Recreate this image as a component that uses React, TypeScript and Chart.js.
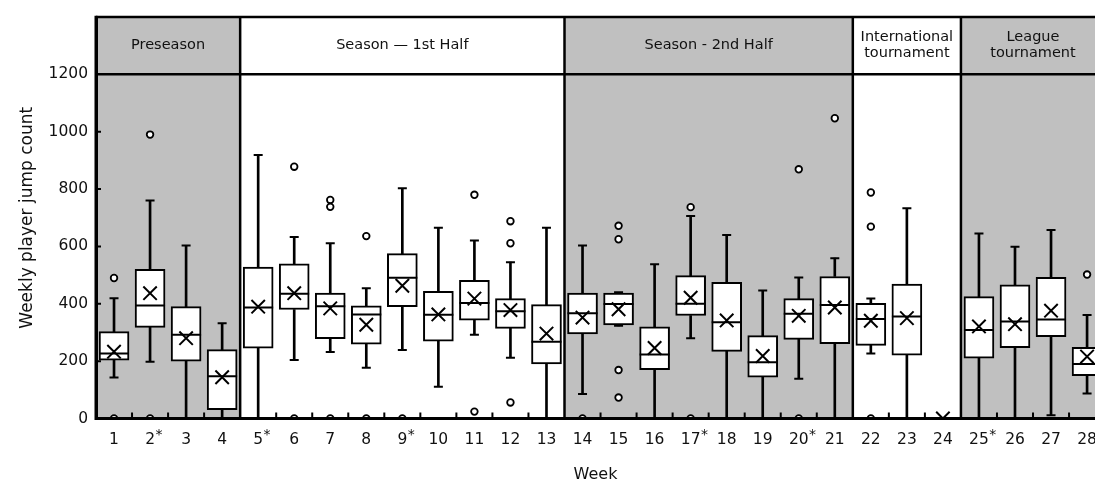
import React, { useEffect, useRef } from 'react';
import { Chart, registerables } from 'chart.js';

Chart.register(...registerables);

const weeks = [1, 2, 3, 4, 5, 6, 7, 8, 9, 10, 11, 12, 13, 14, 15, 16, 17, 18, 19, 20, 21, 22, 23, 24, 25, 26, 27, 28];
const weekLabels = ['1', '2', '3', '4', '5', '6', '7', '8', '9', '10', '11', '12', '13', '14', '15', '16', '17', '18', '19', '20', '21', '22', '23', '24', '25', '26', '27', '28'];
const starredWeeks = [2, 5, 9, 17, 20, 25];

const q1 = [203, 318, 200, 31, 245, 380, 278, 259, 390, 270, 343, 314, 190, 295, 326, 170, 359, 234, 144, 276, 261, 255, 221, null, 210, 247, 285, 149];
const q3 = [303, 520, 390, 240, 528, 539, 437, 393, 575, 443, 482, 418, 397, 437, 437, 320, 498, 475, 289, 418, 495, 402, 469, null, 425, 466, 492, 248];
const medians = [227, 394, 292, 147, 387, 435, 391, 363, 491, 362, 403, 374, 268, 367, 399, 223, 400, 336, 196, 365, 396, 347, 356, null, 309, 338, 345, 190];
const means = [233, 437, 280, 144, 390, 437, 384, 327, 463, 363, 418, 378, 296, 352, 381, 246, 421, 342, 218, 358, 387, 341, 350, 0, 321, 329, 376, 216];
const whiskerLow = [143, 198, 0, 0, 0, 204, 232, 177, 239, 111, 292, 212, 0, 85, 323, 0, 280, 0, 0, 139, 0, 227, 0, null, 0, 0, 11, 87];
const whiskerHigh = [419, 760, 603, 332, 919, 633, 611, 454, 803, 665, 621, 545, 665, 603, 440, 538, 706, 640, 446, 492, 559, 418, 733, null, 645, 599, 657, 361];

const outlierWeeks = [1, 1, 2, 2, 6, 6, 7, 7, 7, 8, 8, 9, 11, 11, 12, 12, 12, 14, 15, 15, 15, 15, 17, 17, 20, 20, 21, 22, 22, 22, 28];
const outlierValues = [490, 0, 990, 0, 878, 0, 762, 738, 0, 636, 0, 0, 780, 24, 688, 611, 56, 0, 672, 625, 169, 73, 737, 0, 869, 0, 1047, 788, 669, 0, 502];

const sectionNames = [['Preseason'], ['Season \u2014 1st Half'], ['Season - 2nd Half'], ['International', 'tournament'], ['League', 'tournament']];
const sectionStarts = [1, 5, 14, 22, 25];
const sectionEnds = [4, 13, 21, 24, 28];
const sectionShaded = [true, false, true, false, true];

const yTicks = [0, 200, 400, 600, 800, 1000, 1200];
const headerFrom = 1200;
const yMax = 1400;

const FONT = '"DejaVu Sans", sans-serif';
const SHADE = '#c0c0c0';

const sectionPlugin = {
  id: 'sections',
  beforeDraw(chart: any) {
    const { ctx, chartArea, scales } = chart;
    const x = scales.x;
    ctx.save();
    ctx.fillStyle = SHADE;
    sectionStarts.forEach((s, i) => {
      if (!sectionShaded[i]) return;
      const l = x.getPixelForValue(s - 0.5);
      const r = Math.min(x.getPixelForValue(sectionEnds[i] + 0.5), chartArea.right);
      ctx.fillRect(l, chartArea.top, r - l, chartArea.bottom - chartArea.top);
    });
    ctx.restore();
  },
  afterDatasetsDraw(chart: any) {
    const { ctx, chartArea, scales } = chart;
    const x = scales.x;
    const y = scales.y;
    ctx.save();
    ctx.strokeStyle = '#000';
    ctx.lineWidth = 2;
    ctx.beginPath();
    for (let w = 1; w < 28; w++) {
      if (sectionEnds.includes(w)) continue;
      const px = x.getPixelForValue(w + 0.5);
      ctx.moveTo(px, chartArea.bottom);
      ctx.lineTo(px, chartArea.bottom - 6);
    }
    ctx.stroke();
    ctx.beginPath();
    yTicks.forEach((v) => {
      if (v === 0 || v >= headerFrom) return;
      const py = y.getPixelForValue(v);
      ctx.moveTo(chartArea.left, py);
      ctx.lineTo(chartArea.left + 5, py);
    });
    ctx.stroke();
    ctx.lineWidth = 2.5;
    ctx.beginPath();
    sectionEnds.forEach((e, i) => {
      if (i === sectionEnds.length - 1) return;
      const px = x.getPixelForValue(e + 0.5);
      ctx.moveTo(px, chartArea.top);
      ctx.lineTo(px, chartArea.bottom);
    });
    const hy = y.getPixelForValue(headerFrom);
    ctx.moveTo(chartArea.left, hy);
    ctx.lineTo(chartArea.right, hy);
    ctx.moveTo(chartArea.left, chartArea.top);
    ctx.lineTo(chartArea.right, chartArea.top);
    ctx.stroke();
    ctx.lineWidth = 3;
    ctx.beginPath();
    ctx.moveTo(chartArea.left, chartArea.top - 1.25);
    ctx.lineTo(chartArea.left, chartArea.bottom + 1.5);
    ctx.stroke();
    ctx.beginPath();
    ctx.moveTo(chartArea.left, chartArea.bottom);
    ctx.lineTo(chartArea.right, chartArea.bottom);
    ctx.stroke();
    ctx.fillStyle = '#111';
    ctx.font = '14.5px ' + FONT;
    ctx.textAlign = 'center';
    ctx.textBaseline = 'middle';
    const cy = (y.getPixelForValue(yMax) + hy) / 2;
    sectionNames.forEach((lines, i) => {
      const cx = x.getPixelForValue((sectionStarts[i] + sectionEnds[i]) / 2);
      if (lines.length === 1) {
        ctx.fillText(lines[0], cx, cy);
      } else {
        ctx.fillText(lines[0], cx, cy - 8);
        ctx.fillText(lines[1], cx, cy + 8);
      }
    });
    ctx.restore();
  },
  afterDraw(chart: any) {
    const { ctx, scales } = chart;
    const x = scales.x;
    ctx.save();
    ctx.fillStyle = '#111';
    starredWeeks.forEach((w) => {
      const label = weekLabels[weeks.indexOf(w)];
      ctx.font = '15.5px ' + FONT;
      const tw = ctx.measureText(label).width;
      const px = x.getPixelForValue(w) + tw / 2 + 0.5;
      ctx.font = '14px ' + FONT;
      ctx.textAlign = 'left';
      ctx.textBaseline = 'alphabetic';
      ctx.fillText('*', px, 439);
    });
    ctx.restore();
  },
};

export default function App() {
  const canvasRef = useRef<HTMLCanvasElement | null>(null);

  useEffect(() => {
    const canvas = canvasRef.current;
    if (!canvas) return;

    const boxData: any[] = [];
    const lowData: any[] = [];
    const highData: any[] = [];
    const capData: any[] = [];
    const medianData: any[] = [];
    weeks.forEach((w, i) => {
      if (q1[i] == null || q3[i] == null) return;
      boxData.push({ x: w, y: [q1[i], q3[i]] });
      lowData.push({ x: w, y: [whiskerLow[i], q1[i]] });
      highData.push({ x: w, y: [q3[i], whiskerHigh[i]] });
      if ((whiskerLow[i] as number) > 0) capData.push({ x: w, y: whiskerLow[i] });
      capData.push({ x: w, y: whiskerHigh[i] });
      medianData.push({ x: w, y: medians[i] });
    });
    const meanData = weeks.map((w, i) => ({ x: w, y: means[i] }));
    const outlierData = outlierWeeks.map((w, i) => ({ x: w, y: outlierValues[i] }));

    const chart = new Chart(canvas, {
      type: 'bar',
      data: {
        datasets: [
          {
            type: 'scatter',
            label: 'Outliers',
            data: outlierData,
            pointStyle: 'circle',
            pointRadius: 3.3,
            pointBorderWidth: 1.8,
            pointBackgroundColor: '#fff',
            pointBorderColor: '#000',
            order: 0,
          } as any,
          {
            type: 'scatter',
            label: 'Mean',
            data: meanData,
            pointStyle: 'crossRot',
            pointRadius: 9.5,
            pointBorderWidth: 2,
            pointBorderColor: '#000',
            order: 0,
          } as any,
          {
            type: 'scatter',
            label: 'Median',
            data: medianData,
            pointStyle: 'line',
            pointRadius: 15,
            pointBorderWidth: 2,
            pointBorderColor: '#000',
            order: 1,
          } as any,
          {
            type: 'bar',
            label: 'Box',
            data: boxData,
            backgroundColor: '#fff',
            borderColor: '#000',
            borderWidth: 2,
            borderSkipped: false,
            barThickness: 30,
            grouped: false,
            order: 2,
          } as any,
          {
            type: 'scatter',
            label: 'Caps',
            data: capData,
            pointStyle: 'line',
            pointRadius: 4.5,
            pointBorderWidth: 2,
            pointBorderColor: '#000',
            order: 3,
          } as any,
          {
            type: 'bar',
            label: 'WhiskerLow',
            data: lowData,
            backgroundColor: '#000',
            borderWidth: 0,
            barThickness: 2,
            grouped: false,
            order: 4,
          } as any,
          {
            type: 'bar',
            label: 'WhiskerHigh',
            data: highData,
            backgroundColor: '#000',
            borderWidth: 0,
            barThickness: 2,
            grouped: false,
            order: 4,
          } as any,
        ],
      },
      options: {
        animation: false,
        responsive: true,
        maintainAspectRatio: false,
        layout: { autoPadding: false, padding: { top: 17, right: 0, bottom: 0, left: 0 } },
        plugins: {
          legend: { display: false },
          tooltip: { enabled: false },
        },
        scales: {
          x: {
            type: 'linear',
            min: 0.5,
            max: 28.22,
            offset: false,
            afterBuildTicks: (s: any) => {
              s.ticks = weeks.map((v) => ({ value: v }));
            },
            afterFit: (s: any) => {
              s.height = 64.5;
              s.paddingLeft = 0;
              s.paddingRight = 0;
            },
            grid: { display: false, drawTicks: false, offset: false },
            border: { display: true, width: 3, color: '#000' },
            ticks: {
              autoSkip: false,
              maxRotation: 0,
              minRotation: 0,
              padding: 12,
              color: '#111',
              font: { family: FONT, size: 15.5 },
              callback: (v: any) => {
                const idx = weeks.indexOf(Number(v));
                return idx >= 0 ? weekLabels[idx] : '';
              },
            },
            title: {
              display: true,
              text: 'Week',
              color: '#111',
              font: { family: FONT, size: 16, lineHeight: 1 },
              padding: { top: 0, bottom: 0 },
            },
          } as any,
          y: {
            type: 'linear',
            min: 0,
            max: yMax,
            afterBuildTicks: (s: any) => {
              s.ticks = yTicks.map((v) => ({ value: v }));
            },
            afterFit: (s: any) => {
              s.width = 96;
              s.paddingTop = 0;
              s.paddingBottom = 0;
            },
            grid: { display: false, drawTicks: false },
            border: { display: true, width: 3, color: '#000' },
            ticks: {
              padding: 8,
              color: '#111',
              font: { family: FONT, size: 15.5 },
              callback: (v: any) => String(v),
            },
            title: {
              display: true,
              text: 'Weekly player jump count',
              color: '#111',
              font: { family: FONT, size: 17, lineHeight: 1 },
              padding: { top: 19, bottom: 0 },
            },
          } as any,
        },
      },
      plugins: [sectionPlugin],
    });

    return () => {
      chart.destroy();
    };
  }, []);

  return (
    <div style={{ position: 'absolute', left: 0, top: 0, width: 1095, height: 483, background: '#fff' }}>
      <canvas ref={canvasRef} />
    </div>
  );
}
